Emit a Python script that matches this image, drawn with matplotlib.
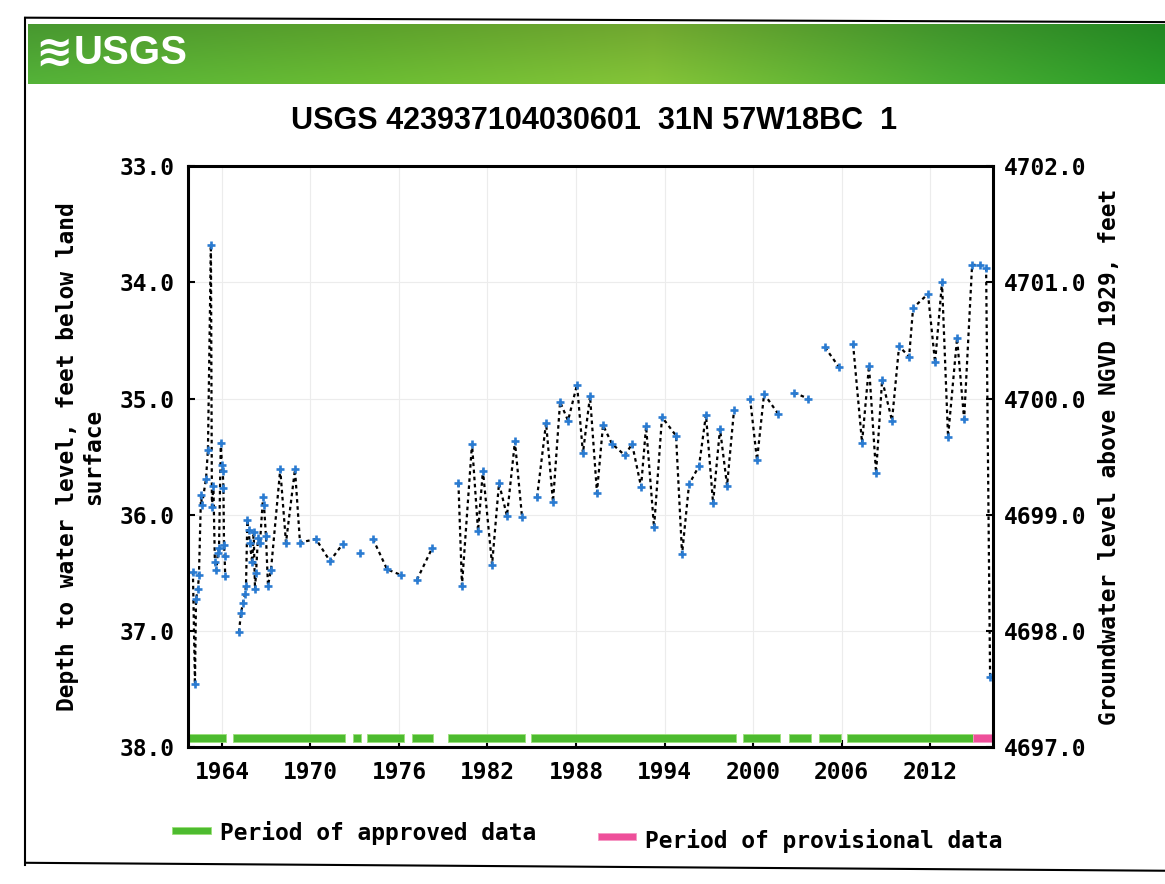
import numpy as np
import matplotlib.pyplot as plt
from matplotlib.patches import Rectangle
from matplotlib.lines import Line2D

nan = np.nan

# decimal year / depth to water (ft below land surface); nan = break in line
years = [1962.03, 1962.17, 1962.24, 1962.37, 1962.44, 1962.58, 1962.64, 1962.92,
         1963.05, 1963.25, 1963.32, 1963.42, 1963.52, 1963.62, 1963.72, 1963.80,
         1963.92, 1964.00, 1964.05, 1964.10, 1964.14, 1964.18, 1964.22, nan,
         1965.15, 1965.29, 1965.42, 1965.56, 1965.63, 1965.72, 1965.80, 1965.88,
         1966.05, 1966.15, 1966.24, 1966.31, 1966.44, 1966.58, 1966.78, 1966.85,
         1966.98, 1967.12, 1967.32, 1967.95, 1968.34, 1968.95, 1969.29, 1970.37,
         1971.32, 1972.20, nan, 1973.36, nan, 1974.24, 1975.19, 1976.14, nan,
         1977.22, 1978.24, nan,
         1980.03, 1980.27, 1980.95, 1981.36, 1981.69, 1982.31, 1982.78, 1983.32,
         1983.86, 1984.34, nan,
         1985.36, 1985.97, 1986.44, 1986.92, 1987.46, 1988.07, 1988.47, 1988.95,
         1989.42, 1989.83, 1990.44, 1991.32, 1991.80, 1992.41, 1992.75, 1993.29,
         1993.83, 1994.78, 1995.19, 1995.66, 1996.34, 1996.81, 1997.29, 1997.76,
         1998.24, 1998.71, nan,
         1999.80, 2000.27, 2000.75, 2001.69, nan, 2002.78, 2003.73, nan,
         2004.88, 2005.83, nan,
         2006.78, 2007.39, 2007.86, 2008.34, 2008.75, 2009.42, 2009.90, 2010.58,
         2010.85, 2011.86, 2012.34, 2012.81, 2013.22, 2013.83, 2014.31, 2014.85,
         2015.39, 2015.80, 2016.07]
depths = [36.49, 37.46, 36.73, 36.64, 36.52, 35.83, 35.92, 35.69,
          35.44, 33.68, 35.93, 35.75, 36.41, 36.48, 36.33, 36.29,
          35.38, 35.57, 35.62, 35.77, 36.26, 36.36, 36.53, nan,
          37.01, 36.85, 36.76, 36.68, 36.61, 36.05, 36.13, 36.24,
          36.41, 36.15, 36.64, 36.50, 36.20, 36.24, 35.85, 35.92,
          36.18, 36.61, 36.48, 35.61, 36.24, 35.61, 36.24, 36.21,
          36.40, 36.25, nan, 36.33, nan, 36.21, 36.47, 36.52, nan,
          36.56, 36.29, nan,
          35.73, 36.61, 35.39, 36.14, 35.62, 36.43, 35.73, 36.01,
          35.37, 36.02, nan,
          35.85, 35.21, 35.89, 35.03, 35.19, 34.88, 35.47, 34.98,
          35.81, 35.23, 35.39, 35.49, 35.39, 35.76, 35.24, 36.11,
          35.16, 35.32, 36.34, 35.74, 35.58, 35.14, 35.90, 35.26,
          35.75, 35.10, nan,
          35.00, 35.53, 34.96, 35.13, nan, 34.95, 35.00, nan,
          34.56, 34.73, nan,
          34.53, 35.38, 34.72, 35.64, 34.84, 35.19, 34.55, 34.64,
          34.22, 34.10, 34.69, 34.00, 35.33, 34.48, 35.18, 33.85,
          33.85, 33.88, 37.40]

approved_start = [1961.5, 1964.73, 1972.90, 1973.82, 1976.89, 1979.29, 1984.98,
                  1999.32, 2002.42, 2004.45, 2006.40]
approved_end = [1964.29, 1972.35, 1973.45, 1976.37, 1978.33, 1984.54, 1998.83,
                2001.86, 2003.90, 2005.93, 2014.91]
provisional_start = [2014.91]
provisional_end = [2016.4]

x_ticks = [1964, 1970, 1976, 1982, 1988, 1994, 2000, 2006, 2012]
depth_ticks = [33.0, 34.0, 35.0, 36.0, 37.0, 38.0]
land_surface = 4735.0

mono = 'DejaVu Sans Mono'
narrow = ['Liberation Sans Narrow', 'Liberation Sans', 'DejaVu Sans']
fs = 16.5

fig = plt.figure(figsize=(11.65, 8.84), dpi=100)

# page frame
fig.add_artist(Line2D([0.0215, 0.0215], [0.022, 0.98], color='black', lw=1.5))
fig.add_artist(Line2D([0.0215, 1.0], [0.98, 0.975], color='black', lw=1.5))
fig.add_artist(Line2D([0.0215, 1.0], [0.024, 0.015], color='black', lw=1.5))

# green banner
stops = [0.0, 0.3, 0.55, 0.8, 1.0]
cols = np.array([[0.33, 0.70, 0.22], [0.42, 0.74, 0.20], [0.52, 0.77, 0.22],
                 [0.30, 0.68, 0.20], [0.16, 0.62, 0.16]])
xs = np.linspace(0, 1, 400)
row = np.stack([np.interp(xs, stops, cols[:, i]) for i in range(3)], axis=1)
shade = np.linspace(0.85, 1.0, 30)[:, None, None]
banner = np.clip(row[None, :, :] * shade, 0, 1)
bax = fig.add_axes([0.024, 0.905, 0.976, 0.068])
bax.imshow(banner, aspect='auto', interpolation='bilinear')
bax.axis('off')
fig.text(0.03, 0.94, '\u224b', color='white', fontsize=32, fontweight='bold',
         va='center', ha='left')
fig.text(0.063, 0.94, 'USGS', color='white', fontsize=29, fontweight='bold',
         family=narrow, va='center', ha='left')

fig.text(0.51, 0.863, 'USGS 423937104030601  31N 57W18BC  1', fontsize=22,
         fontweight='bold', family=narrow, ha='center', va='center')

ax = fig.add_axes([0.1614, 0.155, 0.691, 0.657])
ax.set_xlim(1961.7, 2016.27)
ax.set_ylim(38.0, 33.0)
ax.set_xticks(x_ticks)
ax.set_yticks(depth_ticks)
ax.set_yticklabels(['%.1f' % v for v in depth_ticks])
ax.grid(True, color='#ececec', lw=0.8)
ax.set_axisbelow(True)
for s in ax.spines.values():
    s.set_linewidth(2.2)
ax.tick_params(direction='in', length=5, width=1.5, labelsize=fs, pad=10)
for lab in ax.get_xticklabels() + ax.get_yticklabels():
    lab.set_family(mono)
    lab.set_fontweight('bold')

for s, e in zip(approved_start, approved_end):
    ax.broken_barh([(s, e - s)], (37.89, 0.07), facecolor='#4dbb2f',
                   edgecolor='#9be07a', lw=0.6)
for s, e in zip(provisional_start, provisional_end):
    ax.broken_barh([(s, e - s)], (37.89, 0.07), facecolor='#ee4f9a',
                   edgecolor='#f59ac4', lw=0.6)

ax.plot(years, depths, color='black', lw=1.6, ls=(0, (1.6, 1.6)))
ax.plot(years, depths, ls='none', marker='+', ms=6, mew=1.9, color='#2a7bd1')

ax.set_ylabel('Depth to water level, feet below land\nsurface', family=mono,
              fontweight='bold', fontsize=fs, labelpad=10)

ax2 = ax.twinx()
ax2.set_ylim(land_surface - 38.0, land_surface - 33.0)
elev_ticks = [land_surface - d for d in depth_ticks]
ax2.set_yticks(elev_ticks)
ax2.set_yticklabels(['%.1f' % v for v in elev_ticks])
ax2.tick_params(direction='in', length=5, width=1.5, labelsize=fs, pad=8)
for lab in ax2.get_yticklabels():
    lab.set_family(mono)
    lab.set_fontweight('bold')
ax2.set_ylabel('Groundwater level above NGVD 1929, feet', family=mono,
               fontweight='bold', fontsize=fs, labelpad=8)

# legend
fig.add_artist(Rectangle((0.148, 0.057), 0.033, 0.008, transform=fig.transFigure,
                         facecolor='#4dbb2f', edgecolor='#9be07a', lw=0.6))
fig.text(0.189, 0.058, 'Period of approved data', family=mono, fontweight='bold',
         fontsize=fs, va='center', ha='left')
fig.add_artist(Rectangle((0.513, 0.050), 0.033, 0.008, transform=fig.transFigure,
                         facecolor='#ee4f9a', edgecolor='#f59ac4', lw=0.6))
fig.text(0.554, 0.049, 'Period of provisional data', family=mono, fontweight='bold',
         fontsize=fs, va='center', ha='left')

fig.savefig('out.png', dpi=100)
